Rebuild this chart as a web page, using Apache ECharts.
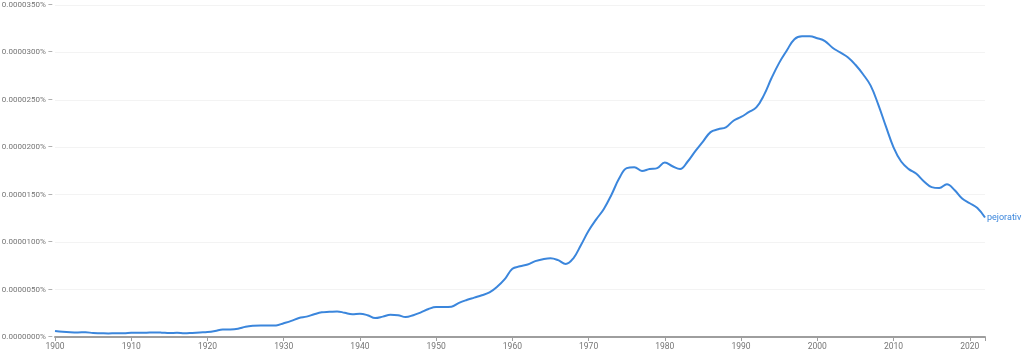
<!DOCTYPE html>
<html>
<head>
<meta charset="utf-8">
<script src="https://cdn.jsdelivr.net/npm/echarts@6/dist/echarts.min.js"></script>
<style>
html,body{margin:0;padding:0;background:#fff;}
#chart{width:1024px;height:353px;}
</style>
</head>
<body>
<div id="chart"></div>
<script>
// Values in units of 0.0000001 % (e.g. 350 -> 0.0000350%)
const seriesName = 'pejorativ';
const startYear = 1900;
const values = [
  6.3, 5.5, 5.0, 4.8, 5.0, 4.2, 4.0, 3.8, 4.0, 4.0,
  4.4, 4.5, 4.6, 4.8, 4.6, 4.2, 4.4, 3.9, 4.3, 4.8,
  5.2, 6.3, 7.9, 8.0, 8.8, 10.8, 11.8, 12.2, 12.0, 12.2,
  14.5, 17.0, 20.0, 21.5, 24.0, 26.0, 26.5, 27.0, 25.5, 24.0,
  24.5, 23.0, 20.0, 21.5, 23.5, 23.0, 21.0, 23.0, 26.0, 29.5,
  31.5, 31.5, 32.0, 36.0, 39.0, 41.5, 44.0, 47.0, 53.0, 61.0,
  72.0, 74.5, 76.5, 80.0, 82.0, 83.0, 81.0, 77.0, 83.0, 97.0,
  112, 124, 135, 150, 167, 178, 179, 175, 177, 178,
  184, 180, 177, 185, 196, 206, 216, 219, 221, 228,
  232, 237, 242, 255, 273, 289, 302, 314, 317, 317,
  315, 312, 305, 300, 295, 287, 277, 265, 245, 222,
  200, 185, 177, 172, 164, 158, 157, 161, 155, 146,
  141, 136, 126
];
const yTicks = [0, 50, 100, 150, 200, 250, 300, 350];
const xTicks = [1900, 1910, 1920, 1930, 1940, 1950, 1960, 1970, 1980, 1990, 2000, 2010, 2020];

const data = values.map((v, i) => [startYear + i, v]);
const grey = '#757575';

const chart = echarts.init(document.getElementById('chart'), null, {renderer: 'canvas'});
chart.setOption({
  animation: false,
  grid: {left: 55, right: 39, top: 5, bottom: 16, containLabel: false, outerBoundsMode: 'none'},
  xAxis: {
    type: 'value',
    min: 1900, max: startYear + values.length - 1, interval: 10,
    axisLine: {show: true, lineStyle: {color: '#9e9e9e', width: 2}},
    axisTick: {show: true, length: 4, lineStyle: {color: '#9e9e9e'}},
    splitLine: {show: false},
    axisLabel: {
      color: grey, fontSize: 8.5, fontFamily: 'Roboto', margin: 5,
      formatter: v => (xTicks.includes(v) ? String(v) : '')
    }
  },
  yAxis: {
    type: 'value',
    min: 0, max: 350, interval: 50,
    axisLine: {show: false},
    axisTick: {show: false},
    splitLine: {show: true, lineStyle: {color: '#f3f3f3', width: 1}},
    axisLabel: {
      color: grey, fontSize: 8, fontFamily: 'Roboto', margin: 2,
      formatter: v => (yTicks.includes(v) ? (v * 1e-7).toFixed(7) + '% \u2013' : '')
    }
  },
  series: [{
    name: seriesName,
    type: 'line',
    data: data,
    smooth: 0.4,
    symbol: 'none',
    lineStyle: {color: '#3b86dc', width: 2},
    endLabel: {
      show: true, formatter: seriesName, color: '#3b86dc',
      fontSize: 9, fontFamily: 'Roboto', distance: 2, overflow: 'none', width: 60
    }
  }]
});
</script>
</body>
</html>
